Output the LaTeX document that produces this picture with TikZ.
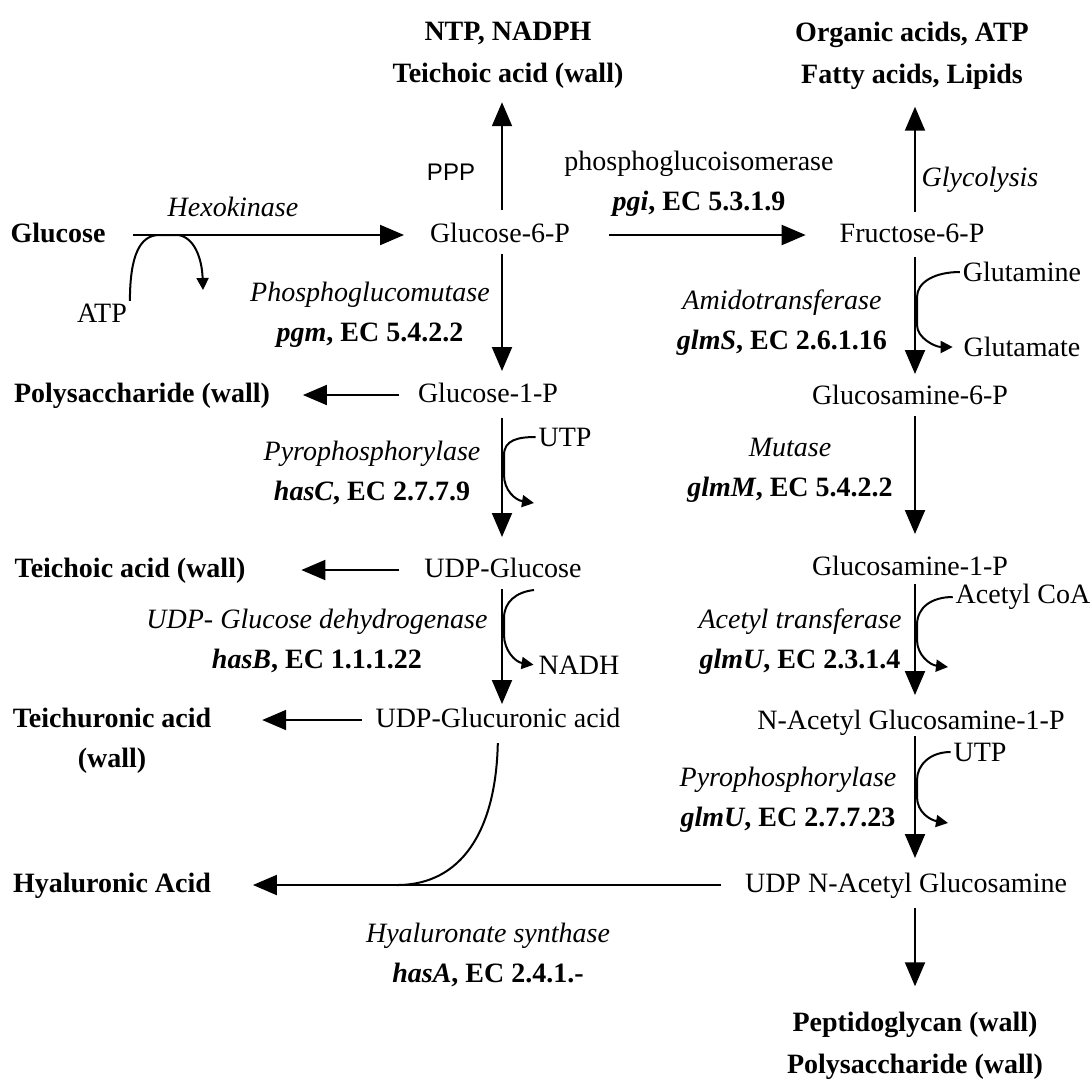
\documentclass[tikz,border=0pt]{standalone}
\usepackage{fontspec}
\setmainfont{Liberation Serif}
\newfontfamily\pppfont{Liberation Sans}
\usetikzlibrary{arrows.meta,positioning}

\begin{document}
\begin{tikzpicture}[x=0.5pt,y=-0.5pt,>={Triangle[length=12pt,width=10pt]},line width=1pt,font=\fontsize{14}{20}\selectfont]
	\tikzstyle{met}=[inner sep=0pt,text height=10pt,text depth=3pt]
	\tikzstyle{wall}=[met,font=\fontsize{14}{21}\selectfont\bfseries]
	\tikzstyle{wallstack}=[inner sep=0pt,align=center,font=\fontsize{14}{21}\selectfont\bfseries]
	\tikzstyle{enz}=[inner sep=0pt,align=center]
	\tikzstyle{cof}=[inner sep=1pt]
	\tikzstyle{side}=[-{Triangle[length=6pt,width=6pt]}]

	\useasboundingbox (0,0) rectangle (1092,1084);
	\coordinate (LAXIS) at (502,0);
	\coordinate (RAXIS) at (915,0);

	% left branch
	\node[wallstack] (TOPL) at (508,55) {NTP, NADPH\\Teichoic acid (wall)};
	\node[wall] (GLC) at (58,235) {Glucose};
	\node[met] (G6P) at (500,235) {Glucose-6-P};
	\node[met] (G1P) at (488,395) {Glucose-1-P};
	\node[wall] (POLY) at (142,395) {Polysaccharide (wall)};
	\node[met] (UDPG) at (503,570) {UDP-Glucose};
	\node[wall] (TEICH) at (130,570) {Teichoic acid (wall)};
	\node[met] (UDPGA) at (498,720) {UDP-Glucuronic acid};
	\node[wall] (TEICHU) at (112,720) {Teichuronic acid};
	\node[wall] (TEICHUW) [on grid, below=20pt of TEICHU] {(wall)};
	\node[wall] (HYAL) at (112,885) {Hyaluronic Acid};

	% right branch
	\node[wallstack] (TOPR) at (912,56) {Organic acids, ATP\\Fatty acids, Lipids};
	\node[met] (F6P) at (912,235) {Fructose-6-P};
	\node[met] (GN6P) at (910,397) {Glucosamine-6-P};
	\node[met] (GN1P) at (910,568) {Glucosamine-1-P};
	\node[met] (NAG1P) at (911,722) {N-Acetyl Glucosamine-1-P};
	\node[met] (UDPNAG) at (906,885) {UDP N-Acetyl Glucosamine};
	\node[wallstack] (PEPT) at (915,1046) {Peptidoglycan (wall)\\Polysaccharide (wall)};

	% enzymes
	\node[enz] (HEXO) at (233,207) {\textit{Hexokinase}};
	\node[enz,font=\pppfont\fontsize{12}{14}\selectfont] (PPP) at (451,172) {PPP};
	\node[enz] (PGI) at (699,184) {phosphoglucoisomerase\\\textbf{\textit{pgi}, EC 5.3.1.9}};
	\node[enz] (GLYC) at (980,180) {\textit{Glycolysis}};
	\node[enz] (PGM) at (370,315) {\textit{Phosphoglucomutase}\\\textbf{\textit{pgm}, EC 5.4.2.2}};
	\node[enz] (HASC) at (372,473) {\textit{Pyrophosphorylase}\\\textbf{\textit{hasC}, EC 2.7.7.9}};
	\node[enz] (HASB) at (317,641) {\textit{UDP- Glucose dehydrogenase}\\\textbf{\textit{hasB}, EC 1.1.1.22}};
	\node[enz] (HASA) at (488,955) {\textit{Hyaluronate synthase}\\\textbf{\textit{hasA}, EC 2.4.1.-}};
	\node[enz] (GLMS) at (782,323) {\textit{Amidotransferase}\\\textbf{\textit{glmS}, EC 2.6.1.16}};
	\node[enz] (GLMM) at (790,470) {\textit{Mutase}\\\textbf{\textit{glmM}, EC 5.4.2.2}};
	\node[enz] (GLMU1) at (800,642) {\textit{Acetyl transferase}\\\textbf{\textit{glmU}, EC 2.3.1.4}};
	\node[enz] (GLMU2) at (788,800) {\textit{Pyrophosphorylase}\\\textbf{\textit{glmU}, EC 2.7.7.23}};

	% cofactors
	\node[cof] (ATP) at (102,313) {ATP};
	\node[cof] (UTPL) at (565,437) {UTP};
	\node[cof] (NADH) at (579,665) {NADH};
	\node[cof] (GLN) at (1022,272) {Glutamine};
	\node[cof] (GLU) at (1022,347) {Glutamate};
	\node[cof] (ACCOA) at (1023,597) {Acetyl CoA};
	\node[cof] (UTPR) at (980,752) {UTP};
	\coordinate (ATPOUT) at (203,290);
	\coordinate (UTPLOUT) at (534,503);
	\coordinate (NADIN) at (534,590);
	\coordinate (ACOUT) at (948,667);
	\coordinate (UTPROUT) at (948,823);
	\coordinate (MERGE) at (397,885);

	\path[->] (GLC) edge[shorten <=13.5pt, shorten >=12.5pt] (G6P)
		(G6P) edge[shorten <=19pt, shorten >=16.5pt] (F6P)
		(G6P.north -| LAXIS) edge[shorten <=5.5pt, shorten >=6.5pt] (TOPL.south -| LAXIS)
		(G6P.south -| LAXIS) edge[shorten <=2.5pt, shorten >=5pt] (G1P.north -| LAXIS)
		(G1P) edge[shorten <=9pt, shorten >=16pt] (POLY)
		(G1P.south -| LAXIS) edge[shorten <=4.5pt, shorten >=9.5pt] (UDPG.north -| LAXIS)
		(UDPG) edge[shorten <=12pt, shorten >=27.5pt] (TEICH)
		(UDPG.south -| LAXIS) edge[shorten <=2.5pt, shorten >=1pt] (UDPGA.north -| LAXIS)
		(UDPGA) edge[shorten <=6.5pt, shorten >=25pt] (TEICHU)
		(UDPNAG) edge[shorten <=11.5pt, shorten >=20.5pt] (HYAL)
		(F6P.north -| RAXIS) edge[shorten <=4.5pt, shorten >=8pt] (TOPR.south -| RAXIS)
		(F6P.south -| RAXIS) edge[shorten <=4pt, shorten >=4.5pt] (GN6P.north -| RAXIS)
		(GN6P.south -| RAXIS) edge[shorten <=2.5pt, shorten >=10pt] (GN1P.north -| RAXIS)
		(GN1P.south -| RAXIS) edge[shorten <=1pt, shorten >=6.5pt] (NAG1P.north -| RAXIS)
		(NAG1P.south -| RAXIS) edge[shorten <=0pt, shorten >=6.5pt] (UDPNAG.north -| RAXIS)
		(UDPNAG.south -| RAXIS) edge[shorten <=4.5pt, shorten >=12.5pt] (PEPT.north -| RAXIS);

	% side reactions
	\draw[side] (ATP.north east) .. controls (130,255) and (140,236) .. (158,235) -- (178,235) .. controls (194,237) and (202,258) .. (ATPOUT);
	\draw[side] (UTPL.west) .. controls (518,437) and (504,440) .. (504,455) -- (504,475) .. controls (504,490) and (515,500) .. (UTPLOUT);
	\draw[side, shorten >=1pt] (NADIN) .. controls (516,592) and (504,602) .. (504,618) -- (504,635) .. controls (504,650) and (515,662) .. (NADH.west);
	\draw[side, shorten >=4pt] (GLN.west) .. controls (935,272) and (917,282) .. (917,297) -- (917,325) .. controls (917,338) and (935,347) .. (GLU.west);
	\draw[side] (ACCOA.west) .. controls (932,597) and (917,607) .. (917,625) -- (917,640) .. controls (917,655) and (930,665) .. (ACOUT);
	\draw[side] (UTPR.west) .. controls (930,752) and (917,765) .. (917,780) -- (917,797) .. controls (917,812) and (930,820) .. (UTPROUT);
	\draw[shorten <=4.5pt] (UDPGA.south) .. controls (496,830) and (462,885) .. (MERGE);

\end{tikzpicture}
\end{document}
